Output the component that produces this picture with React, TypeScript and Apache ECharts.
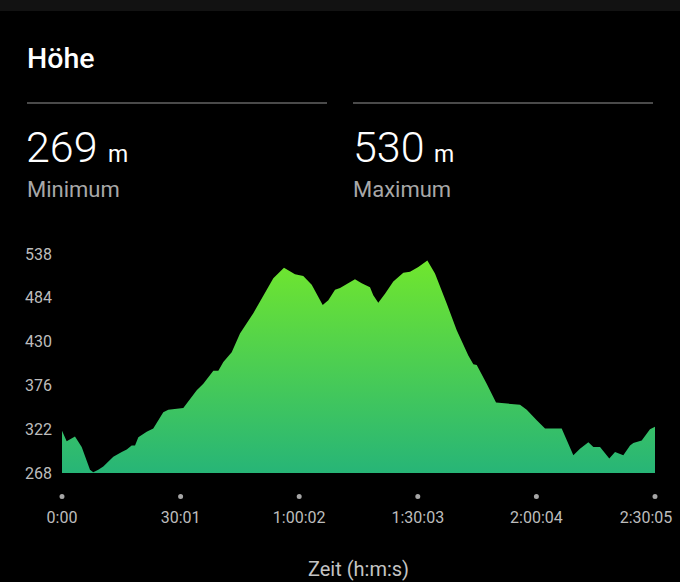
import React, { useEffect, useRef } from "react";
import * as echarts from "echarts";

// elapsed time in seconds
const timeSec = [0, 71, 111, 197, 299, 425, 475, 551, 627, 779, 907, 983, 1058, 1109, 1159, 1286, 1386, 1538, 1614, 1842, 2046, 2146, 2298, 2374, 2450, 2577, 2703, 2905, 3109, 3209, 3371, 3538, 3664, 3792, 3959, 4044, 4146, 4222, 4449, 4551, 4677, 4727, 4803, 4905, 5031, 5183, 5285, 5411, 5548, 5664, 5842, 5994, 6170, 6246, 6298, 6449, 6591, 6955, 7057, 7209, 7335, 7588, 7765, 7866, 7993, 8069, 8170, 8311, 8398, 8524, 8626, 8676, 8803, 8929, 9005];
// elevation in metres
const elevation = [320, 307, 309, 313, 300, 272, 269, 272, 276, 288, 294, 297, 302, 302, 312, 319, 323, 343, 346, 348, 370, 378, 394, 394, 405, 417, 440, 465, 494, 508, 521, 513, 511, 500, 475, 481, 494, 496, 507, 502, 497, 487, 478, 489, 504, 515, 516, 522, 530, 514, 477, 444, 413, 402, 401, 378, 355, 352, 346, 333, 323, 323, 290, 298, 306, 300, 300, 286, 294, 290, 302, 305, 308, 322, 325];

const yTicks = [268, 322, 376, 430, 484, 538];
const xMin = 0;
const xMax = 9005;
const xInterval = 1801;

const title = "Höhe";
const minValue = "269";
const maxValue = "530";
const unit = "m";
const minLabel = "Minimum";
const maxLabel = "Maximum";
const xName = "Zeit (h:m:s)";

function fmtTime(v: number): string {
  const s = Math.round(v);
  const h = Math.floor(s / 3600);
  const m = Math.floor((s % 3600) / 60);
  const sec = s % 60;
  const pad = (n: number) => (n < 10 ? "0" + n : "" + n);
  if (h > 0) return h + ":" + pad(m) + ":" + pad(sec);
  return m + ":" + pad(sec);
}

export default function App() {
  const ref = useRef<HTMLDivElement>(null);
  useEffect(() => {
    if (!ref.current) return;
    const chart = echarts.init(ref.current, null, { renderer: "svg" });
    const data = timeSec.map((t, i) => [t, elevation[i]]);
    const font = "Roboto";
    chart.setOption({
      animation: false,
      backgroundColor: "#000000",
      textStyle: { fontFamily: font },
      grid: { left: 62, width: 593, top: 254, height: 219, containLabel: false, outerBoundsMode: "none" },
      xAxis: [
        {
          type: "value",
          min: xMin,
          max: xMax,
          interval: xInterval,
          position: "bottom",
          name: xName,
          nameLocation: "middle",
          nameGap: 86,
          nameTextStyle: { color: "#c4c4c4", fontSize: 20, fontFamily: font },
          axisLine: { show: false },
          axisTick: { show: false },
          splitLine: { show: false },
          axisLabel: {
            show: true,
            color: "#bdbdbd",
            fontSize: 16,
            margin: 36,
            showMinLabel: true,
            showMaxLabel: true,
            hideOverlap: false,
            formatter: (v: number) => (v >= xMax ? "{last|" + fmtTime(v) + "}" : fmtTime(v)),
            rich: {
              last: { padding: [0, 18, 0, 0], fontSize: 16, color: "#bdbdbd", fontFamily: font },
            },
          },
        },
        {
          type: "value",
          min: xMin,
          max: xMax,
          interval: xInterval,
          position: "bottom",
          axisLine: { show: false },
          axisTick: { show: false },
          splitLine: { show: false },
          axisLabel: {
            show: true,
            margin: 21,
            fontSize: 5,
            lineHeight: 5,
            showMinLabel: true,
            showMaxLabel: true,
            hideOverlap: false,
            formatter: () => "{d| }",
            rich: {
              d: {
                width: 5,
                height: 5,
                lineHeight: 5,
                fontSize: 5,
                borderRadius: 2.5,
                backgroundColor: "#a6a6a6",
              },
            },
          },
        },
      ],
      yAxis: {
        type: "value",
        min: yTicks[0],
        max: yTicks[yTicks.length - 1],
        axisLine: { show: false },
        axisTick: { show: false },
        splitLine: { show: false },
        axisLabel: {
          color: "#bdbdbd",
          fontSize: 16,
          margin: 10,
          customValues: yTicks,
          showMinLabel: true,
          showMaxLabel: true,
        },
      },
      series: [
        {
          type: "line",
          xAxisIndex: 0,
          data,
          showSymbol: false,
          symbol: "none",
          smooth: false,
          lineStyle: { width: 0, opacity: 0 },
          areaStyle: {
            origin: "start",
            opacity: 1,
            color: {
              type: "linear",
              x: 0,
              y: 0,
              x2: 0,
              y2: 1,
              colorStops: [
                { offset: 0, color: "#70e62e" },
                { offset: 1, color: "#27b577" },
              ],
            },
          },
        },
      ],
      graphic: [
        { type: "rect", shape: { x: 0, y: 0, width: 680, height: 11 }, style: { fill: "#121212" } },
        { type: "text", x: 27, y: 58, style: { text: title, fill: "#ffffff", fontSize: 28.5, fontWeight: 500, fontFamily: font, verticalAlign: "middle" } },
        { type: "line", shape: { x1: 27, y1: 103, x2: 327, y2: 103 }, style: { stroke: "#4a4a4a", lineWidth: 2 } },
        { type: "line", shape: { x1: 353, y1: 103, x2: 653, y2: 103 }, style: { stroke: "#4a4a4a", lineWidth: 2 } },
        { type: "text", x: 26, y: 147, style: { text: minValue, fill: "#ffffff", fontSize: 43, fontWeight: 300, fontFamily: font, verticalAlign: "middle" } },
        { type: "text", x: 108, y: 154, style: { text: unit, fill: "#ffffff", fontSize: 23, fontWeight: 400, fontFamily: font, verticalAlign: "middle" } },
        { type: "text", x: 27, y: 189.5, style: { text: minLabel, fill: "#a8a8a8", fontSize: 22, fontWeight: 400, fontFamily: font, verticalAlign: "middle" } },
        { type: "text", x: 353, y: 147, style: { text: maxValue, fill: "#ffffff", fontSize: 43, fontWeight: 300, fontFamily: font, verticalAlign: "middle" } },
        { type: "text", x: 434, y: 154, style: { text: unit, fill: "#ffffff", fontSize: 23, fontWeight: 400, fontFamily: font, verticalAlign: "middle" } },
        { type: "text", x: 353, y: 189.5, style: { text: maxLabel, fill: "#a8a8a8", fontSize: 22, fontWeight: 400, fontFamily: font, verticalAlign: "middle" } },
      ],
    });
    return () => chart.dispose();
  }, []);
  return (
    <div
      ref={ref}
      style={{ position: "absolute", left: 0, top: 0, width: 680, height: 582, background: "#000" }}
    />
  );
}
